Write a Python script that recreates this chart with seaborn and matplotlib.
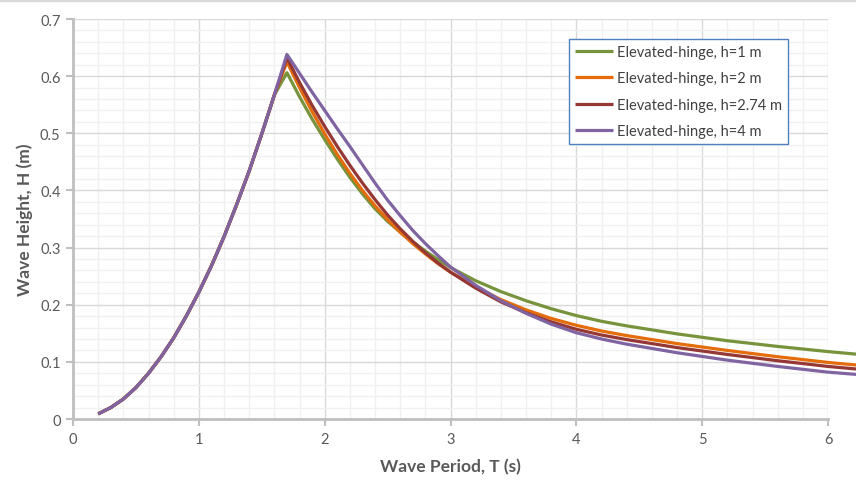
import matplotlib
matplotlib.use("Agg")
import matplotlib.pyplot as plt
from matplotlib.lines import Line2D
from matplotlib.ticker import MultipleLocator, FixedLocator, FixedFormatter
import seaborn as sns
import pandas as pd

# ---- data ----
series_names = ["Elevated-hinge, h=1 m", "Elevated-hinge, h=2 m",
                "Elevated-hinge, h=2.74 m", "Elevated-hinge, h=4 m"]

# rising (breaking-limited) branch, shared by all series
T_rise = [0.2, 0.3, 0.4, 0.5, 0.6, 0.7, 0.8, 0.9, 1.0, 1.1, 1.2, 1.3, 1.4, 1.5, 1.6]
H_rise = [0.009, 0.020, 0.035, 0.055, 0.080, 0.109, 0.142, 0.180, 0.222,
          0.268, 0.319, 0.375, 0.434, 0.499, 0.567]

# peak and falling branch per series
T_fall = [1.7, 1.8, 1.9, 2.0, 2.1, 2.2, 2.3, 2.4, 2.5, 2.6, 2.7, 2.8, 2.9,
          3.0, 3.2, 3.4, 3.6, 3.8, 4.0, 4.2, 4.4, 4.8, 5.2, 5.6, 6.0, 6.4]
H_h1 = [0.606, 0.564, 0.525, 0.489, 0.455, 0.423, 0.394, 0.368, 0.346, 0.327,
        0.310, 0.294, 0.279, 0.265, 0.242, 0.223, 0.207, 0.193, 0.181, 0.171,
        0.163, 0.149, 0.137, 0.127, 0.118, 0.110]
H_h2 = [0.625, 0.580, 0.538, 0.499, 0.463, 0.430, 0.400, 0.373, 0.349, 0.327,
        0.307, 0.289, 0.272, 0.257, 0.231, 0.209, 0.191, 0.176, 0.164, 0.154,
        0.146, 0.132, 0.120, 0.109, 0.099, 0.091]
H_h274 = [0.632, 0.589, 0.549, 0.512, 0.477, 0.444, 0.413, 0.384, 0.357, 0.333,
          0.311, 0.291, 0.273, 0.257, 0.229, 0.205, 0.186, 0.170, 0.157, 0.147,
          0.139, 0.125, 0.113, 0.102, 0.092, 0.084]
H_h4 = [0.638, 0.605, 0.572, 0.540, 0.508, 0.477, 0.445, 0.413, 0.383, 0.356,
        0.330, 0.307, 0.286, 0.266, 0.234, 0.207, 0.185, 0.166, 0.151, 0.140,
        0.131, 0.116, 0.103, 0.092, 0.082, 0.075]

x_ticks = [0, 1, 2, 3, 4, 5, 6]
x_labels = ["0", "1", "2", "3", "4", "5", "6"]
y_ticks = [0, 0.1, 0.2, 0.3, 0.4, 0.5, 0.6, 0.7]
y_labels = ["0", "0.1", "0.2", "0.3", "0.4", "0.5", "0.6", "0.7"]

colors = ["#77933C", "#E46C0A", "#953735", "#8064A2"]

# ---- build table ----
rows = []
for name, fall in zip(series_names, [H_h1, H_h2, H_h274, H_h4]):
    for t, h in zip(T_rise + T_fall, H_rise + fall):
        rows.append({"T": t, "H": h, "series": name})
df = pd.DataFrame(rows)

sns.set_theme(style="white")
plt.rcParams["font.family"] = ["Lato", "DejaVu Sans"]

fig = plt.figure(figsize=(8.56, 4.81), dpi=100)
ax = fig.add_axes([0.0853, 0.1268, 0.8820, 0.8316])

sns.lineplot(data=df, x="T", y="H", hue="series", palette=colors,
             hue_order=series_names, linewidth=2.3, ax=ax, sort=True,
             estimator=None)
for ln in ax.get_lines():
    ln.set_clip_on(False)
    ln.set_solid_capstyle("butt")
    ln.set_solid_joinstyle("round")

ax.set_xlim(0, 6)
ax.set_ylim(0, 0.7)
ax.xaxis.set_major_locator(FixedLocator(x_ticks))
ax.xaxis.set_major_formatter(FixedFormatter(x_labels))
ax.yaxis.set_major_locator(FixedLocator(y_ticks))
ax.yaxis.set_major_formatter(FixedFormatter(y_labels))
ax.xaxis.set_minor_locator(MultipleLocator(0.2))
ax.yaxis.set_minor_locator(MultipleLocator(0.02))

ax.grid(which="minor", color="#F0F0F0", linewidth=1.0)
ax.grid(which="major", color="#D9D9D9", linewidth=1.0)
ax.set_axisbelow(True)

for s in ["top", "right"]:
    ax.spines[s].set_visible(False)
for s in ["left", "bottom"]:
    ax.spines[s].set_color("#BFBFBF")
    ax.spines[s].set_linewidth(2.0)

ax.tick_params(axis="both", which="major", direction="out", length=5,
               width=1.5, color="#BFBFBF", labelsize=10.5, labelcolor="#595959",
               pad=4)
ax.tick_params(axis="both", which="minor", length=0)
ax.tick_params(axis="x", bottom=True)
ax.tick_params(axis="y", left=True)

ax.set_xlabel("Wave Period, T (s)", fontsize=12.5, fontweight="bold",
              color="#595959", labelpad=9)
ax.set_ylabel("Wave Height, H (m)", fontsize=12.5, fontweight="bold",
              color="#595959", labelpad=5)

handles, labels = ax.get_legend_handles_labels()
leg = ax.legend(handles, labels, loc="upper right",
                bbox_to_anchor=(0.947, 0.95), borderaxespad=0,
                fontsize=10.5, frameon=True, fancybox=False,
                handlelength=2.6, handletextpad=0.3, labelspacing=0.85,
                borderpad=0.4, labelcolor="#404040")
leg.get_frame().set_edgecolor("#4F81BD")
leg.get_frame().set_linewidth(1.0)
leg.get_frame().set_facecolor("white")
leg.get_frame().set_alpha(1.0)

# thin chart-area border line at the top of the image
fig.add_artist(Line2D([0, 1], [0.997, 0.997], transform=fig.transFigure,
                      color="#D9D9D9", linewidth=2.5))

fig.savefig("out.png", dpi=100)
